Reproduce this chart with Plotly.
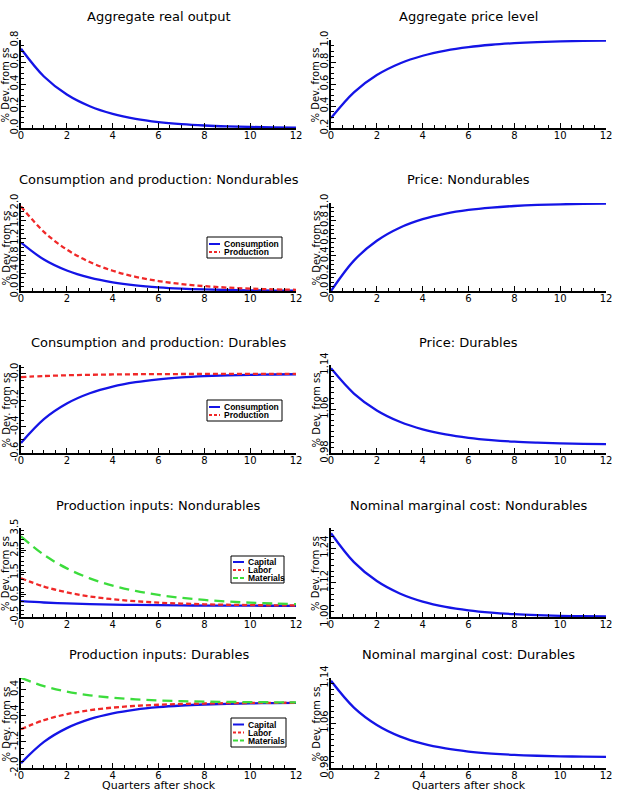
import plotly.graph_objects as go

# ---------------- data ----------------
quarters = [0, 1, 2, 3, 4, 5, 6, 7, 8, 9, 10, 11, 12]

agg_output = [0.72, 0.468, 0.3042, 0.1977, 0.1285, 0.0835, 0.0543, 0.0353, 0.0229, 0.0149, 0.0097, 0.0063, 0.0041]
agg_price = [0.29, 0.5243, 0.6813, 0.7865, 0.8569, 0.9041, 0.9358, 0.957, 0.9712, 0.9807, 0.9871, 0.9913, 0.9942]

nd_consumption = [1.1, 0.715, 0.4648, 0.3021, 0.1964, 0.1276, 0.083, 0.0539, 0.0351, 0.0228, 0.0148, 0.0096, 0.0063]
nd_production = [1.92, 1.344, 0.9408, 0.6586, 0.461, 0.3227, 0.2259, 0.1582, 0.1106, 0.0776, 0.0541, 0.038, 0.0265]
nd_price = [0.0, 0.345, 0.571, 0.719, 0.8159, 0.8794, 0.921, 0.9483, 0.9661, 0.9778, 0.9855, 0.9905, 0.9938]

d_consumption = [-0.524, -0.3432, -0.2248, -0.1472, -0.0965, -0.0632, -0.0414, -0.0271, -0.0178, -0.0116, -0.0076, -0.005, -0.0033]
d_production = [-0.025, -0.0165, -0.0109, -0.0072, -0.0047, -0.0031, -0.0021, -0.0014, -0.0009, -0.0006, -0.0004, -0.0003, -0.0002]
d_price = [1.134, 1.0881, 1.0574, 1.0368, 1.023, 1.0138, 1.0076, 1.0034, 1.0006, 0.9988, 0.9975, 0.9967, 0.9961]

nd_capital = [0.21, 0.1512, 0.1089, 0.0784, 0.0564, 0.0406, 0.0293, 0.0211, 0.0152, 0.0109, 0.0079, 0.0057, 0.0041]
nd_labor = [1.24, 0.868, 0.6076, 0.4253, 0.2977, 0.2084, 0.1459, 0.1021, 0.0715, 0.05, 0.035, 0.0245, 0.0172]
nd_materials = [3.12, 2.2932, 1.6855, 1.2389, 0.9107, 0.6692, 0.492, 0.3616, 0.2658, 0.1953, 0.1435, 0.1055, 0.0777]
nd_mc = [1.292, 1.1913, 1.1253, 1.0821, 1.0538, 1.0352, 1.0231, 1.0151, 1.0099, 1.0065, 1.0042, 1.0028, 1.0018]

d_capital = [-1.85, -1.2025, -0.7816, -0.508, -0.3302, -0.2146, -0.1395, -0.0907, -0.059, -0.0383, -0.025, -0.0163, -0.0105]
d_labor = [-0.815, -0.5379, -0.355, -0.2343, -0.1546, -0.102, -0.0674, -0.0445, -0.0293, -0.0194, -0.0128, -0.0085, -0.0055]
d_materials = [0.755, 0.5021, 0.3339, 0.222, 0.1477, 0.0982, 0.0653, 0.0434, 0.0289, 0.0192, 0.0128, 0.0085, 0.0057]
d_mc = [1.135, 1.0874, 1.0565, 1.0363, 1.0233, 1.0148, 1.0093, 1.0057, 1.0033, 1.0018, 1.0008, 1.0002, 0.9998]

titles = [
    "Aggregate real output", "Aggregate price level",
    "Consumption and production: Nondurables", "Price: Nondurables",
    "Consumption and production: Durables", "Price: Durables",
    "Production inputs: Nondurables", "Nominal marginal cost: Nondurables",
    "Production inputs: Durables", "Nominal marginal cost: Durables",
]
x_ticks = [0, 2, 4, 6, 8, 10, 12]
y_ticks = [
    ["0.0", "0.2", "0.4", "0.6", "0.8"],
    ["0.2", "0.4", "0.6", "0.8", "1.0"],
    ["0.0", "0.4", "0.8", "1.2", "1.6", "2.0"],
    ["0.0", "0.2", "0.4", "0.6", "0.8", "1.0"],
    ["-0.6", "-0.4", "-0.2", "-0.0"],
    ["0.98", "1.06", "1.14"],
    ["-0.5", "0.5", "1.5", "2.5", "3.5"],
    ["1.00", "1.12", "1.24"],
    ["-2.0", "-1.2", "-0.4", "0.4"],
    ["0.98", "1.06", "1.14"],
]
y_ranges = [
    [0, 0.8], [0.2, 1.0], [0, 2.0], [0, 1.0], [-0.6, 0.067],
    [0.98, 1.14], [-0.5, 3.5], [1.0, 1.31], [-2.0, 0.75], [0.98, 1.14],
]

# ---------------- styling / layout ----------------
BLUE = "#1414e6"
RED = "#f02828"
GREEN = "#3cdc3c"
styles = {
    "blue": dict(color=BLUE, width=2.3),
    "red": dict(color=RED, width=2.3, dash="5px,3px"),
    "green": dict(color=GREEN, width=2.3, dash="10px,6px"),
}

panel_series = [
    [(None, agg_output, "blue")],
    [(None, agg_price, "blue")],
    [("Consumption", nd_consumption, "blue"), ("Production", nd_production, "red")],
    [(None, nd_price, "blue")],
    [("Consumption", d_consumption, "blue"), ("Production", d_production, "red")],
    [(None, d_price, "blue")],
    [("Capital", nd_capital, "blue"), ("Labor", nd_labor, "red"), ("Materials", nd_materials, "green")],
    [(None, nd_mc, "blue")],
    [("Capital", d_capital, "blue"), ("Labor", d_labor, "red"), ("Materials", d_materials, "green")],
    [(None, d_mc, "blue")],
]
# legend boxes in pixels: (left, top, right, bottom, first-row y, row step)
legend_boxes = {
    2: (207, 237, 282, 258, 244.0, 8.0),
    4: (207, 400, 282, 421, 407.0, 8.0),
    6: (231, 556, 284, 583, 562.0, 8.0),
    8: (231, 718, 286, 747, 724.5, 8.0),
}

W, H = 619, 798
col_px = [(21, 296), (331, 606)]
row_px = [(40, 128), (203, 291), (365, 453), (528, 617), (678, 768)]
title_px = [17, 179, 342, 505, 654]
FONT = "DejaVu Sans"
LFONT = "Liberation Sans"

def px(xp):
    return xp / W

def py(yp):
    return 1 - yp / H

fig = go.Figure()
layout = dict(
    width=W, height=H, margin=dict(l=0, r=0, t=0, b=0, autoexpand=False),
    paper_bgcolor="white", plot_bgcolor="white",
    font=dict(family=FONT, color="black"),
    showlegend=False,
    annotations=[], shapes=[],
)

for i in range(10):
    r, c = divmod(i, 2)
    sfx = "" if i == 0 else str(i + 1)
    xa, ya = "x" + sfx, "y" + sfx
    for name, vals, sty in panel_series[i]:
        fig.add_trace(go.Scatter(
            x=quarters, y=vals, mode="lines", name=name or titles[i],
            line=dict(shape="spline", **styles[sty]),
            xaxis=xa, yaxis=ya, hoverinfo="skip", showlegend=False,
        ))

    x0, x1 = col_px[c]
    yt, yb = row_px[r]
    yvals = [float(t) for t in y_ticks[i]]
    layout["xaxis" + sfx] = dict(
        domain=[px(x0), px(x1)], range=[0, 12], anchor=ya, automargin=False,
        showline=True, linecolor="black", linewidth=2, mirror=False,
        ticks="inside", ticklen=5, tickwidth=1, tickcolor="black",
        tickvals=x_ticks, ticktext=[str(t) for t in x_ticks],
        minor=dict(ticks="inside", ticklen=3, dtick=0.5, tickcolor="black"),
        showgrid=False, zeroline=False, tickfont=dict(size=10, family=FONT),
        ticklabelstandoff=-3,
        fixedrange=True,
    )
    layout["yaxis" + sfx] = dict(
        domain=[py(yb), py(yt)], range=y_ranges[i], anchor=xa, automargin=False,
        showline=True, linecolor="black", linewidth=2, mirror=False,
        ticks="inside", ticklen=5, tickwidth=1, tickcolor="black",
        tickvals=yvals, ticktext=y_ticks[i], tickangle=-90,
        minor=dict(ticks="inside", ticklen=3, tickcolor="black", nticks=5),
        showgrid=False, zeroline=False, tickfont=dict(size=10, family=FONT),
        ticklabelstandoff=-3,
        fixedrange=True,
    )
    layout["annotations"].append(dict(
        text=titles[i], x=px((x0 + x1) / 2), y=py(title_px[r]),
        xref="paper", yref="paper", xanchor="center", yanchor="middle",
        showarrow=False, font=dict(size=13, family=FONT),
    ))
    layout["annotations"].append(dict(
        text="% Dev. from ss", x=px(x0 - 15.5), y=py((yt + yb) / 2 + 1),
        xref="paper", yref="paper", xanchor="center", yanchor="middle",
        textangle=-90, showarrow=False, font=dict(size=10, family=FONT),
    ))

    if i in legend_boxes:
        lx0, ly0, lx1, ly1, ey, step = legend_boxes[i]
        layout["shapes"].append(dict(
            type="rect", xref="paper", yref="paper",
            x0=px(lx0), x1=px(lx1), y0=py(ly1), y1=py(ly0),
            line=dict(color="black", width=1), fillcolor="white", layer="above",
        ))
        for k, (name, vals, sty) in enumerate(panel_series[i]):
            yy = ey + k * step
            layout["shapes"].append(dict(
                type="line", xref="paper", yref="paper",
                x0=px(lx0 + 2), x1=px(lx0 + 13), y0=py(yy), y1=py(yy),
                line=dict(color=styles[sty]["color"], width=2,
                          dash="solid" if sty == "blue" else ("3px,2px" if sty == "red" else "5px,2px")),
                layer="above",
            ))
            layout["annotations"].append(dict(
                text="<b>" + name + "</b>", x=px(lx0 + 15), y=py(yy),
                xref="paper", yref="paper", xanchor="left", yanchor="middle",
                showarrow=False, font=dict(size=8.5, family=LFONT, color="black"),
            ))

for c in range(2):
    x0, x1 = col_px[c]
    layout["annotations"].append(dict(
        text="Quarters after shock", x=px((x0 + x1) / 2), y=py(785),
        xref="paper", yref="paper", xanchor="center", yanchor="middle",
        showarrow=False, font=dict(size=11, family=FONT),
    ))

fig.update_layout(**layout)
fig.write_html("out.html")
